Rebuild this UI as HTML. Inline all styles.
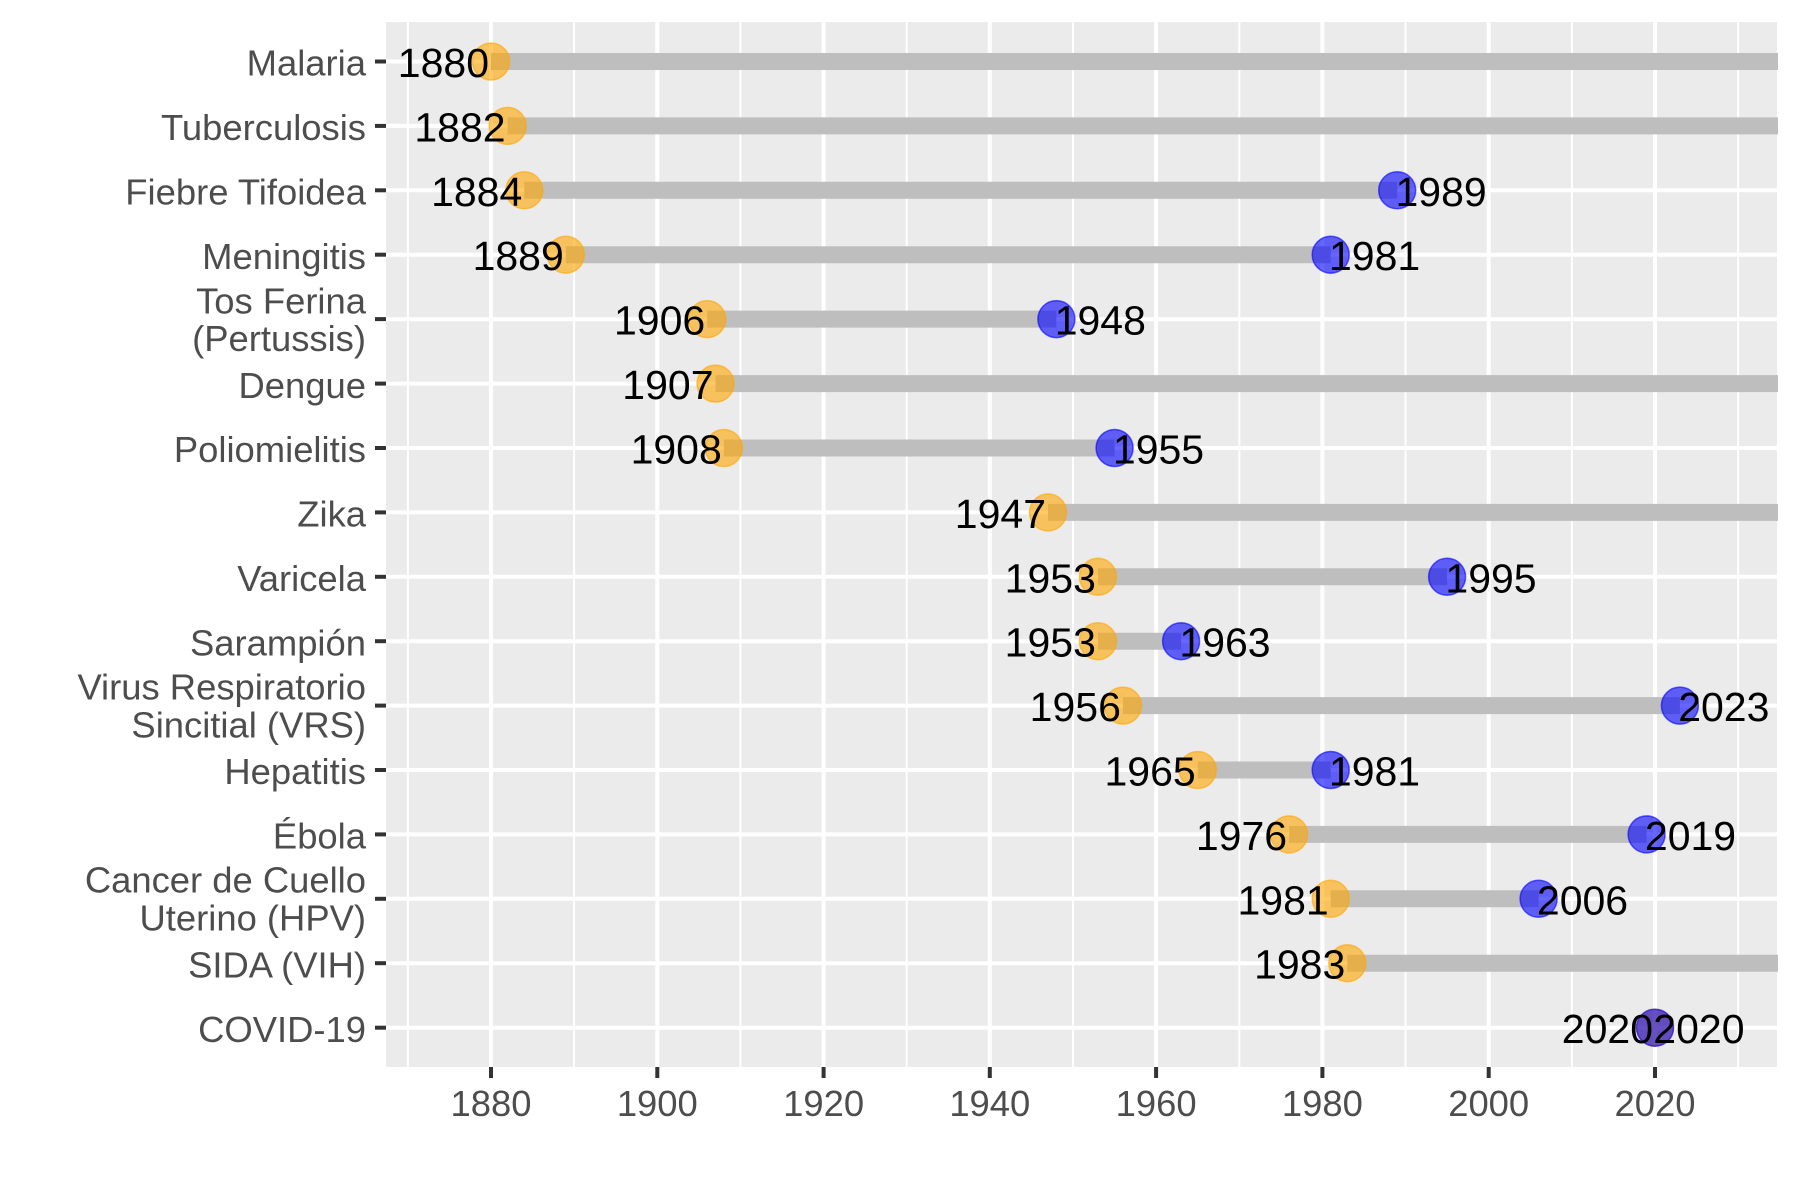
<!DOCTYPE html>
<html><head><meta charset="utf-8"><style>
html,body{margin:0;padding:0;background:#fff;}
svg{display:block;}
.ax{font-family:"Liberation Sans",Arial,sans-serif;font-size:36.4px;fill:#4D4D4D;}
.lb{font-family:"Liberation Sans",Arial,sans-serif;font-size:41px;fill:#000;}
</style></head><body>
<svg width="1800" height="1200" viewBox="0 0 1800 1200" xmlns="http://www.w3.org/2000/svg">
<rect x="0" y="0" width="1800" height="1200" fill="#fff"/>
<defs><clipPath id="pc"><rect x="386" y="22" width="1392" height="1045"/></clipPath></defs>
<rect x="386" y="22" width="1391" height="1045" fill="#EBEBEB"/>
<g stroke="#fff" stroke-width="2">
<line x1="407.9" y1="22" x2="407.9" y2="1067"/><line x1="574.1" y1="22" x2="574.1" y2="1067"/><line x1="740.4" y1="22" x2="740.4" y2="1067"/><line x1="906.7" y1="22" x2="906.7" y2="1067"/><line x1="1073" y1="22" x2="1073" y2="1067"/><line x1="1239.3" y1="22" x2="1239.3" y2="1067"/><line x1="1405.5" y1="22" x2="1405.5" y2="1067"/><line x1="1571.9" y1="22" x2="1571.9" y2="1067"/><line x1="1738.1" y1="22" x2="1738.1" y2="1067"/>
</g>
<g stroke="#fff" stroke-width="4">
<line x1="491" y1="22" x2="491" y2="1067"/><line x1="657.3" y1="22" x2="657.3" y2="1067"/><line x1="823.6" y1="22" x2="823.6" y2="1067"/><line x1="989.8" y1="22" x2="989.8" y2="1067"/><line x1="1156.1" y1="22" x2="1156.1" y2="1067"/><line x1="1322.4" y1="22" x2="1322.4" y2="1067"/><line x1="1488.7" y1="22" x2="1488.7" y2="1067"/><line x1="1655" y1="22" x2="1655" y2="1067"/>
<line x1="386" y1="61.5" x2="1777" y2="61.5"/><line x1="386" y1="125.9" x2="1777" y2="125.9"/><line x1="386" y1="190.3" x2="1777" y2="190.3"/><line x1="386" y1="254.7" x2="1777" y2="254.7"/><line x1="386" y1="319.1" x2="1777" y2="319.1"/><line x1="386" y1="383.6" x2="1777" y2="383.6"/><line x1="386" y1="448" x2="1777" y2="448"/><line x1="386" y1="512.4" x2="1777" y2="512.4"/><line x1="386" y1="576.8" x2="1777" y2="576.8"/><line x1="386" y1="641.2" x2="1777" y2="641.2"/><line x1="386" y1="705.6" x2="1777" y2="705.6"/><line x1="386" y1="770" x2="1777" y2="770"/><line x1="386" y1="834.4" x2="1777" y2="834.4"/><line x1="386" y1="898.8" x2="1777" y2="898.8"/><line x1="386" y1="963.2" x2="1777" y2="963.2"/><line x1="386" y1="1027.7" x2="1777" y2="1027.7"/>
</g>
<g stroke="#BEBEBE" stroke-width="17" clip-path="url(#pc)">
<line x1="491" y1="61.5" x2="1778" y2="61.5"/>
<line x1="507.6" y1="125.9" x2="1778" y2="125.9"/>
<line x1="524.3" y1="190.3" x2="1397.2" y2="190.3"/>
<line x1="565.8" y1="254.7" x2="1330.7" y2="254.7"/>
<line x1="707.2" y1="319.1" x2="1056.4" y2="319.1"/>
<line x1="715.5" y1="383.6" x2="1778" y2="383.6"/>
<line x1="723.8" y1="448" x2="1114.6" y2="448"/>
<line x1="1048" y1="512.4" x2="1778" y2="512.4"/>
<line x1="1097.9" y1="576.8" x2="1447.1" y2="576.8"/>
<line x1="1097.9" y1="641.2" x2="1181.1" y2="641.2"/>
<line x1="1122.9" y1="705.6" x2="1679.9" y2="705.6"/>
<line x1="1197.7" y1="770" x2="1330.7" y2="770"/>
<line x1="1289.1" y1="834.4" x2="1646.6" y2="834.4"/>
<line x1="1330.7" y1="898.8" x2="1538.6" y2="898.8"/>
<line x1="1347.3" y1="963.2" x2="1778" y2="963.2"/>
</g>
<g fill="#FFA500" fill-opacity="0.6" stroke="#FFA500" stroke-opacity="0.6" stroke-width="1.5">
<circle cx="491" cy="61.5" r="18.5"/><circle cx="507.6" cy="125.9" r="18.5"/><circle cx="524.3" cy="190.3" r="18.5"/><circle cx="565.8" cy="254.7" r="18.5"/><circle cx="707.2" cy="319.1" r="18.5"/><circle cx="715.5" cy="383.6" r="18.5"/><circle cx="723.8" cy="448" r="18.5"/><circle cx="1048" cy="512.4" r="18.5"/><circle cx="1097.9" cy="576.8" r="18.5"/><circle cx="1097.9" cy="641.2" r="18.5"/><circle cx="1122.9" cy="705.6" r="18.5"/><circle cx="1197.7" cy="770" r="18.5"/><circle cx="1289.1" cy="834.4" r="18.5"/><circle cx="1330.7" cy="898.8" r="18.5"/><circle cx="1347.3" cy="963.2" r="18.5"/><circle cx="1655" cy="1027.7" r="18.5"/>
</g>
<g fill="#0000FF" fill-opacity="0.6" stroke="#0000FF" stroke-opacity="0.6" stroke-width="1.5">
<circle cx="1397.2" cy="190.3" r="18.5"/><circle cx="1330.7" cy="254.7" r="18.5"/><circle cx="1056.4" cy="319.1" r="18.5"/><circle cx="1114.6" cy="448" r="18.5"/><circle cx="1447.1" cy="576.8" r="18.5"/><circle cx="1181.1" cy="641.2" r="18.5"/><circle cx="1679.9" cy="705.6" r="18.5"/><circle cx="1330.7" cy="770" r="18.5"/><circle cx="1646.6" cy="834.4" r="18.5"/><circle cx="1538.6" cy="898.8" r="18.5"/><circle cx="1655" cy="1027.7" r="18.5"/>
</g>
<g class="lb" text-anchor="end">
<text x="489" y="77">1880</text>
<text x="505.6" y="141.4">1882</text>
<text x="522.3" y="205.8">1884</text>
<text x="563.8" y="270.2">1889</text>
<text x="705.2" y="334.6">1906</text>
<text x="713.5" y="399.1">1907</text>
<text x="721.8" y="463.5">1908</text>
<text x="1046" y="527.9">1947</text>
<text x="1095.9" y="592.3">1953</text>
<text x="1095.9" y="656.7">1953</text>
<text x="1120.9" y="721.1">1956</text>
<text x="1195.7" y="785.5">1965</text>
<text x="1287.1" y="849.9">1976</text>
<text x="1328.7" y="914.3">1981</text>
<text x="1345.3" y="978.7">1983</text>
<text x="1653" y="1043.2">2020</text>
</g>
<g class="lb" text-anchor="start">
<text x="1395.5" y="205.8">1989</text>
<text x="1329" y="270.2">1981</text>
<text x="1054.7" y="334.6">1948</text>
<text x="1112.9" y="463.5">1955</text>
<text x="1445.4" y="592.3">1995</text>
<text x="1179.4" y="656.7">1963</text>
<text x="1678.2" y="721.1">2023</text>
<text x="1328.9" y="785.5">1981</text>
<text x="1644.9" y="849.9">2019</text>
<text x="1536.9" y="914.3">2006</text>
<text x="1653.3" y="1043.2">2020</text>
</g>
<g stroke="#333" stroke-width="4">
<line x1="375" y1="61.5" x2="386" y2="61.5"/><line x1="375" y1="125.9" x2="386" y2="125.9"/><line x1="375" y1="190.3" x2="386" y2="190.3"/><line x1="375" y1="254.7" x2="386" y2="254.7"/><line x1="375" y1="319.1" x2="386" y2="319.1"/><line x1="375" y1="383.6" x2="386" y2="383.6"/><line x1="375" y1="448" x2="386" y2="448"/><line x1="375" y1="512.4" x2="386" y2="512.4"/><line x1="375" y1="576.8" x2="386" y2="576.8"/><line x1="375" y1="641.2" x2="386" y2="641.2"/><line x1="375" y1="705.6" x2="386" y2="705.6"/><line x1="375" y1="770" x2="386" y2="770"/><line x1="375" y1="834.4" x2="386" y2="834.4"/><line x1="375" y1="898.8" x2="386" y2="898.8"/><line x1="375" y1="963.2" x2="386" y2="963.2"/><line x1="375" y1="1027.7" x2="386" y2="1027.7"/>
<line x1="491" y1="1067" x2="491" y2="1078"/><line x1="657.3" y1="1067" x2="657.3" y2="1078"/><line x1="823.6" y1="1067" x2="823.6" y2="1078"/><line x1="989.8" y1="1067" x2="989.8" y2="1078"/><line x1="1156.1" y1="1067" x2="1156.1" y2="1078"/><line x1="1322.4" y1="1067" x2="1322.4" y2="1078"/><line x1="1488.7" y1="1067" x2="1488.7" y2="1078"/><line x1="1655" y1="1067" x2="1655" y2="1078"/>
</g>
<g class="ax" text-anchor="end">
<text x="366" y="75.7">Malaria</text>
<text x="366" y="140.1">Tuberculosis</text>
<text x="366" y="204.5">Fiebre Tifoidea</text>
<text x="366" y="268.9">Meningitis</text>
<text x="366" y="313.3">Tos Ferina</text>
<text x="366" y="351">(Pertussis)</text>
<text x="366" y="397.8">Dengue</text>
<text x="366" y="462.2">Poliomielitis</text>
<text x="366" y="526.6">Zika</text>
<text x="366" y="591">Varicela</text>
<text x="366" y="655.4">Sarampión</text>
<text x="366" y="699.3">Virus Respiratorio</text>
<text x="366" y="737.3">Sincitial (VRS)</text>
<text x="366" y="784.2">Hepatitis</text>
<text x="366" y="848.6">Ébola</text>
<text x="366" y="892.6">Cancer de Cuello</text>
<text x="366" y="930.6">Uterino (HPV)</text>
<text x="366" y="977.4">SIDA (VIH)</text>
<text x="366" y="1041.9">COVID-19</text>
</g>
<g class="ax" text-anchor="middle">
<text x="491" y="1116">1880</text><text x="657.3" y="1116">1900</text><text x="823.6" y="1116">1920</text><text x="989.8" y="1116">1940</text><text x="1156.1" y="1116">1960</text><text x="1322.4" y="1116">1980</text><text x="1488.7" y="1116">2000</text><text x="1655" y="1116">2020</text>
</g>
</svg>
</body></html>
